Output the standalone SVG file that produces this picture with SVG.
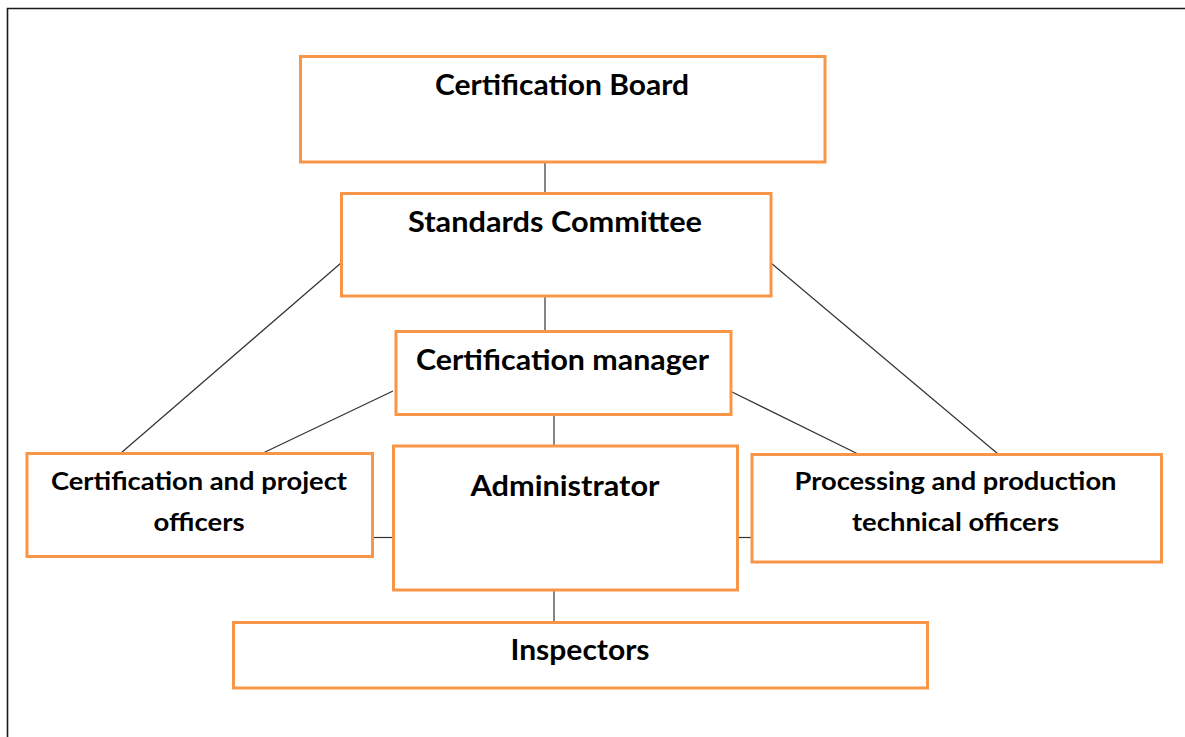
<svg xmlns="http://www.w3.org/2000/svg" width="1185" height="737" viewBox="0 0 1185 737">
  <style>
    .box { fill: #ffffff; stroke: #F79646; stroke-width: 3; }
    .link { stroke: #333333; stroke-width: 1.2; fill: none; }
    .lbl { font-family: Lato, "Open Sans", "Liberation Sans", sans-serif; font-weight: 700; fill: #000000; }
    .big { font-size: 28px; }
    .small { font-size: 24px; }
  </style>
  <rect width="1185" height="737" fill="#ffffff"/>
  <!-- page frame -->
  <path d="M7.5,745 V8.5 H1195" fill="none" stroke="#1a1a1a" stroke-width="1.6"/>

  <g id="connectors">
    <line class="link" x1="545" y1="163" x2="545" y2="193"/>
    <line class="link" x1="545" y1="296" x2="545" y2="331"/>
    <line class="link" x1="554" y1="415" x2="554" y2="445"/>
    <line class="link" x1="554" y1="590" x2="554" y2="622"/>
    <line class="link" x1="341" y1="263" x2="121" y2="453"/>
    <line class="link" x1="771" y1="263" x2="998" y2="454"/>
    <line class="link" x1="393" y1="391" x2="263" y2="453"/>
    <line class="link" x1="730" y1="391" x2="858" y2="454"/>
    <line class="link" x1="373" y1="537.5" x2="393" y2="537.5"/>
    <line class="link" x1="738" y1="537.5" x2="752" y2="537.5"/>
  </g>

  <g id="certification-board">
    <rect class="box" x="300.5" y="56.5" width="524.5" height="105.5"/>
    <text class="lbl big" x="435" y="94.5" textLength="254" lengthAdjust="spacingAndGlyphs">Certification Board</text>
  </g>

  <g id="standards-committee">
    <rect class="box" x="341.5" y="193.5" width="429.5" height="102.5"/>
    <text class="lbl big" x="408" y="232" textLength="294" lengthAdjust="spacingAndGlyphs">Standards Committee</text>
  </g>

  <g id="certification-manager">
    <rect class="box" x="396" y="331.5" width="335" height="83"/>
    <text class="lbl big" x="416" y="369.5" textLength="293" lengthAdjust="spacingAndGlyphs">Certification manager</text>
  </g>

  <g id="administrator">
    <rect class="box" x="393.5" y="446" width="344" height="144"/>
    <text class="lbl big" x="470.5" y="495.5" textLength="189" lengthAdjust="spacingAndGlyphs">Administrator</text>
  </g>

  <g id="certification-project-officers">
    <rect class="box" x="27" y="453.5" width="345.5" height="103"/>
    <text class="lbl small" x="51" y="490" textLength="296" lengthAdjust="spacingAndGlyphs">Certification and project</text>
    <text class="lbl small" x="153.5" y="531" textLength="91" lengthAdjust="spacingAndGlyphs">officers</text>
  </g>

  <g id="processing-production-officers">
    <rect class="box" x="752" y="454.5" width="409.5" height="107.5"/>
    <text class="lbl small" x="794.5" y="490" textLength="322" lengthAdjust="spacingAndGlyphs">Processing and production</text>
    <text class="lbl small" x="852" y="531" textLength="207" lengthAdjust="spacingAndGlyphs">technical officers</text>
  </g>

  <g id="inspectors">
    <rect class="box" x="233.5" y="622.5" width="694" height="65.5"/>
    <text class="lbl big" x="510.5" y="660" textLength="139" lengthAdjust="spacingAndGlyphs">Inspectors</text>
  </g>
</svg>
